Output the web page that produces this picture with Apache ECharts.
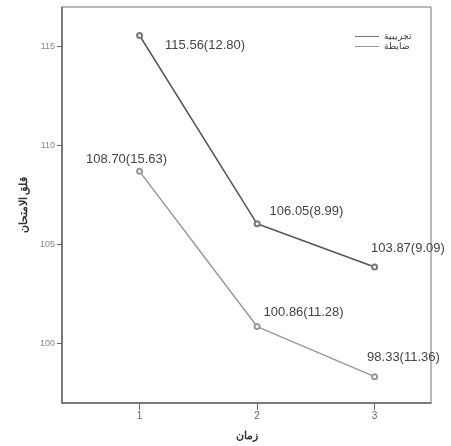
<!DOCTYPE html>
<html><head><meta charset="utf-8">
<script src="https://cdn.jsdelivr.net/npm/echarts@6/dist/echarts.min.js"></script>
<style>html,body{margin:0;padding:0;background:#fff}#c{width:451px;height:446px}</style>
</head><body><div id="c"></div>
<script>
const times = [1, 2, 3];
const seriesNames = ['تجريبية', 'ضابطة'];
const means1 = [115.56, 106.05, 103.87];
const sds1 = [12.80, 8.99, 9.09];
const means2 = [108.70, 100.86, 98.33];
const sds2 = [15.63, 11.28, 11.36];
const yTicks = [100, 105, 110, 115];
const xName = 'زمان';
const yName = 'قلق الامتحان';

const offs1 = [[17, 10], [4, -12], [-12, -19]];
const offs2 = [[-13, 3], [-2, -14], [-16, -19]];
const pos2 = ['top', 'right', 'right'];

function build(means, sds, offs, pos) {
  return means.map((m, i) => ({
    value: [times[i], m],
    label: { show: true, position: pos ? pos[i] : 'right', offset: offs[i],
      formatter: m.toFixed(2) + '(' + sds[i].toFixed(2) + ')' }
  }));
}

const chart = echarts.init(document.getElementById('c'));
const lblStyle = { color: '#444', fontSize: 13, fontFamily: 'Liberation Sans, Arial, sans-serif' };
chart.setOption({
  animation: false,
  grid: { left: 62, top: 7, right: 20, bottom: 43, show: true, borderColor: '#777', borderWidth: 1,
    containLabel: false, outerBoundsMode: 'none' },
  legend: {
    orient: 'vertical', left: 350, top: 27, itemGap: 1, itemWidth: 24, itemHeight: 8,
    icon: 'path://M0,4L24,4L24,5L0,5Z',
    textStyle: { fontSize: 9, color: '#333', fontFamily: 'Noto Sans, sans-serif' },
    data: seriesNames
  },
  xAxis: {
    type: 'value', min: 0.34, max: 3.48,
    name: xName, nameLocation: 'middle', nameGap: 27,
    nameTextStyle: { fontSize: 11, color: '#333', fontWeight: 'bold', fontFamily: 'Noto Sans, sans-serif' },
    axisLine: { lineStyle: { color: '#666', width: 1.5 } },
    axisTick: { show: true, length: 7, customValues: times, lineStyle: { color: '#666' } },
    axisLabel: { customValues: times, color: '#666', fontSize: 10, margin: 8 },
    splitLine: { show: false }
  },
  yAxis: {
    type: 'value', min: 97, max: 117,
    name: yName, nameLocation: 'middle', nameGap: 32, nameRotate: 90,
    nameTextStyle: { fontSize: 11, color: '#333', fontWeight: 'bold', fontFamily: 'Noto Sans, sans-serif' },
    axisLine: { show: true, lineStyle: { color: '#666', width: 1.5 } },
    axisTick: { show: true, length: 5, customValues: yTicks, lineStyle: { color: '#666' } },
    axisLabel: { customValues: yTicks, color: '#888', fontSize: 9, margin: 7 },
    splitLine: { show: false }
  },
  series: [
    { name: seriesNames[0], type: 'line', data: build(means1, sds1, offs1, null),
      symbol: 'emptyCircle', symbolSize: 5, color: '#555',
      lineStyle: { color: '#555', width: 1.5 }, itemStyle: { color: '#777', borderWidth: 1 },
      label: lblStyle },
    { name: seriesNames[1], type: 'line', data: build(means2, sds2, offs2, pos2),
      symbol: 'emptyCircle', symbolSize: 5, color: '#999',
      lineStyle: { color: '#999', width: 1.5 }, itemStyle: { color: '#999', borderWidth: 1 },
      label: lblStyle }
  ]
});
</script></body></html>
